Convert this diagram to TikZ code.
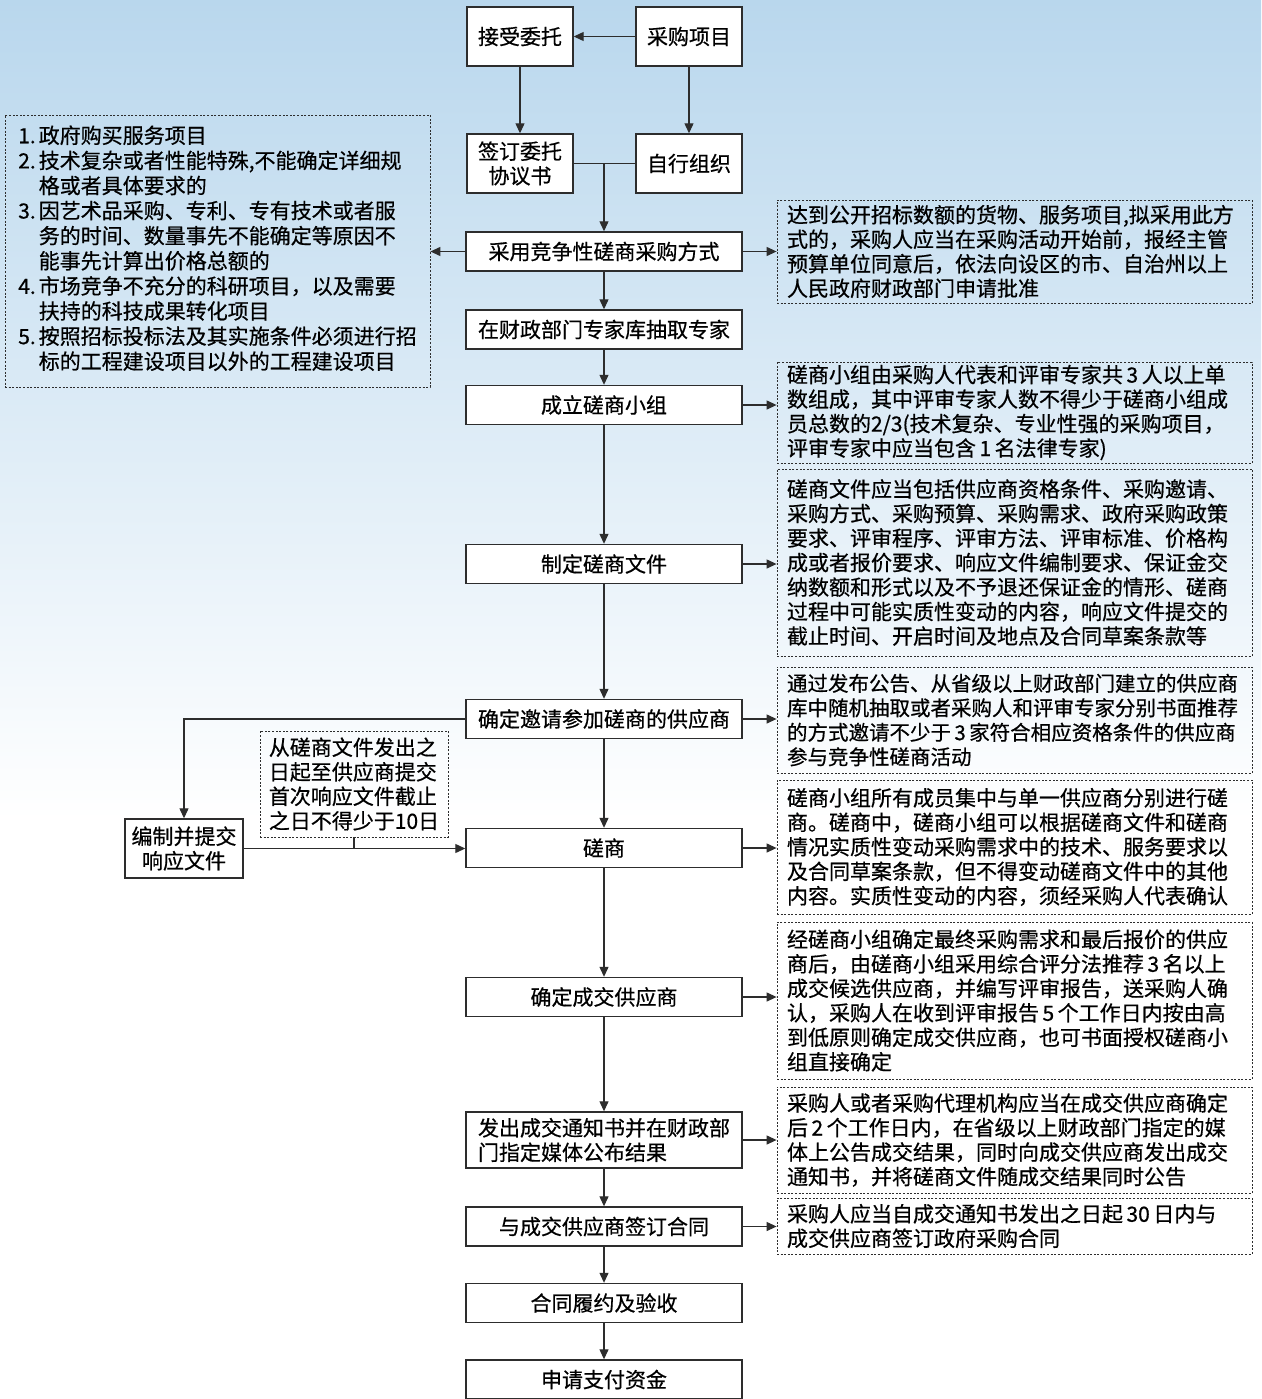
\documentclass[tikz,border=0pt]{standalone}
\usepackage{fontspec}
\setmainfont{Noto Sans CJK SC}[FakeBold=0.6]
\usepackage{xcolor}
\usetikzlibrary{arrows.meta}
\definecolor{skytop}{RGB}{185,215,237}
\definecolor{skymid}{RGB}{228,240,249}
\definecolor{ink}{RGB}{45,45,45}
\begin{document}
\begin{tikzpicture}[x=1pt, y=-1pt, font=\fontsize{21}{24.5}\selectfont]
    \useasboundingbox (0,0) rectangle (1261,1399);
    \fill [white] (0,0) rectangle (1261,1399);
    \shade [top color=skytop, middle color=skymid, bottom color=white] (0,0) rectangle (1261,820);
    \begin{scope}[mybox/.style={draw=ink, line width=1.4pt, fill=white, inner sep=0pt, align=center}, mainbox/.style={mybox, minimum width=276pt, minimum height=39pt}, smallbox/.style={mybox, minimum width=106pt, minimum height=59pt}, mynote/.style={draw=ink, line width=0.8pt, dash pattern=on 2pt off 1.6pt, inner sep=0pt, align=left, minimum width=475pt, text width=455pt}, myarrow/.style={ink, line width=1.2pt, -{Triangle[length=10pt, width=9pt]}}, myline/.style={ink, line width=1.2pt}]
      \node [smallbox] (A) at (520,36.5) {接受委托};
      \node [smallbox] (B) at (689,36.5) {采购项目};
      \node [smallbox] (C) at (520,163.5) {签订委托\\协议书};
      \node [smallbox] (D) at (689,163.5) {自行组织};
      \node [mainbox] (E) at (604,251.5) {采用竞争性磋商采购方式};
      \node [mainbox] (F) at (604,329.5) {在财政部门专家库抽取专家};
      \node [mainbox] (G) at (604,405) {成立磋商小组};
      \node [mainbox] (H) at (604,564) {制定磋商文件};
      \node [mainbox] (I) at (604,719) {确定邀请参加磋商的供应商};
      \node [mainbox] (J) at (604,848) {磋商};
      \node [mainbox] (K) at (604,997) {确定成交供应商};
      \node [mainbox, minimum height=56pt, align=left] (L) at (604,1140) {发出成交通知书并在财政部\\门指定媒体公布结果};
      \node [mainbox] (M) at (604,1226.5) {与成交供应商签订合同};
      \node [mainbox] (N) at (604,1303) {合同履约及验收};
      \node [mainbox] (O) at (604,1379.5) {申请支付资金};
      \node [mybox, minimum width=118pt, minimum height=59pt] (Z) at (184,848.5) {编制并提交\\响应文件};
      \node [mynote, minimum width=425pt, text width=, minimum height=272pt] (P) at (217.5,251) {\begin{tabular}{@{}l@{\hspace{3pt}}l@{}}
        1. & 政府购买服务项目\\
        2. & 技术复杂或者性能特殊,不能确定详细规\\
           & 格或者具体要求的\\
        3. & 因艺术品采购、专利、专有技术或者服\\
           & 务的时间、数量事先不能确定等原因不\\
           & 能事先计算出价格总额的\\
        4. & 市场竞争不充分的科研项目，以及需要\\
           & 扶持的科技成果转化项目\\
        5. & 按照招标投标法及其实施条件必须进行招\\
           & 标的工程建设项目以外的工程建设项目
      \end{tabular}};
      \node [mynote, minimum height=103pt] (Q) at (1014.5,251.5) {达到公开招标数额的货物、服务项目,拟采用此方\\式的，采购人应当在采购活动开始前，报经主管\\预算单位同意后，依法向设区的市、自治州以上\\人民政府财政部门申请批准};
      \node [mynote, minimum height=101pt] (R) at (1014.5,412.5) {磋商小组由采购人代表和评审专家共\,3\,人以上单\\数组成，其中评审专家人数不得少于磋商小组成\\员总数的2/3(技术复杂、专业性强的采购项目，\\评审专家中应当包含\,1\,名法律专家)};
      \node [mynote, minimum height=187pt] (S) at (1014.5,562.5) {磋商文件应当包括供应商资格条件、采购邀请、\\采购方式、采购预算、采购需求、政府采购政策\\要求、评审程序、评审方法、评审标准、价格构\\成或者报价要求、响应文件编制要求、保证金交\\纳数额和形式以及不予退还保证金的情形、磋商\\过程中可能实质性变动的内容，响应文件提交的\\截止时间、开启时间及地点及合同草案条款等};
      \node [mynote, minimum height=106pt, font=\fontsize{20.5}{24.5}\selectfont] (T) at (1014.5,720) {通过发布公告、从省级以上财政部门建立的供应商\\库中随机抽取或者采购人和评审专家分别书面推荐\\的方式邀请不少于\,3\,家符合相应资格条件的供应商\\参与竞争性磋商活动};
      \node [mynote, minimum height=134pt] (U) at (1014.5,847) {磋商小组所有成员集中与单一供应商分别进行磋\\商。磋商中，磋商小组可以根据磋商文件和磋商\\情况实质性变动采购需求中的技术、服务要求以\\及合同草案条款，但不得变动磋商文件中的其他\\内容。实质性变动的内容，须经采购人代表确认};
      \node [mynote, minimum height=157pt] (V) at (1014.5,1000.5) {经磋商小组确定最终采购需求和最后报价的供应\\商后，由磋商小组采用综合评分法推荐\,3\,名以上\\成交候选供应商，并编写评审报告，送采购人确\\认，采购人在收到评审报告\,5\,个工作日内按由高\\到低原则确定成交供应商，也可书面授权磋商小\\组直接确定};
      \node [mynote, minimum height=106pt] (W) at (1014.5,1140) {采购人或者采购代理机构应当在成交供应商确定\\后\,2\,个工作日内，在省级以上财政部门指定的媒\\体上公告成交结果，同时向成交供应商发出成交\\通知书，并将磋商文件随成交结果同时公告};
      \node [mynote, minimum height=56pt] (X) at (1014.5,1226) {采购人应当自成交通知书发出之日起\,30\,日内与\\成交供应商签订政府采购合同};
      \node [mynote, minimum width=188pt, text width=, minimum height=106pt] (Y) at (354,784) {从磋商文件发出之\\日起至供应商提交\\首次响应文件截止\\之日不得少于10日};
      \draw [myarrow] (B) -- (A);
      \draw [myarrow] (A) -- (C);
      \draw [myarrow] (B) -- (D);
      \draw [myline] (C) -- (D);
      \draw [myarrow] (E.north |- C) -- (E);
      \foreach \a/\b in {E/F, F/G, G/H, H/I, I/J, J/K, K/L, L/M, M/N, N/O} {\draw [myarrow] (\a) -- (\b);};
      \foreach \a/\b in {E/Q, G/R, H/S, I/T, J/U, K/V, L/W, M/X} {\draw [myarrow] (\a.east) -- (\a.east -| \b.west);};
      \draw [myarrow] (E.west) -- (E.west -| P.east);
      \draw [myarrow] (I.west) -| (Z.north);
      \draw [myarrow] (Z.east) -- (Z.east -| J.west);
      \draw [myline] (Y.south) -- (Y.south |- Z.east);
    \end{scope}
\end{tikzpicture}
\end{document}
